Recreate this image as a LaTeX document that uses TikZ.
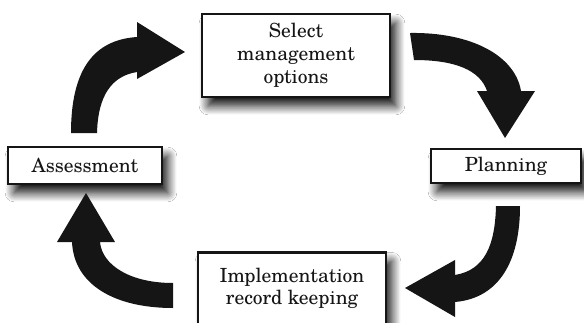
\documentclass[tikz,border=0pt]{standalone}
\usepackage{fontspec}
\setmainfont{TeX Gyre Schola}
\usetikzlibrary{shadows.blur}

\definecolor{ink}{HTML}{151515}

\begin{document}
\begin{tikzpicture}[x=1pt,y=-1pt,
  boxshadow/.style={blur shadow={shadow xshift=6pt, shadow yshift=-9pt,
      shadow blur radius=9pt, shadow blur steps=14, shadow opacity=95}},
  box/.style={draw=ink, line width=2.4pt, fill=white, align=center,
    inner sep=0pt, font=\fontsize{19.5}{23}\selectfont, text=ink, boxshadow},
  boxtext/.style={align=center, inner sep=0pt,
    font=\fontsize{19.5}{21.5}\selectfont, text=ink},
  fatarrow/.style={fill=ink, draw=none}]

\clip (0,0) rectangle (584,322);
\fill[white] (0,0) rectangle (584,322);

% the four stages of the cycle
\node[box, minimum width=187.6pt, minimum height=82.6pt] (select) at (296,55.5)
  {Select\\management\\options};
\node[box, minimum width=149.6pt, minimum height=33.6pt] (plan) at (506,166) {Planning};
\node[box, minimum width=153.6pt, minimum height=36.6pt] (assess) at (85,165.5) {Assessment};
\node[box, minimum width=187.6pt, minimum height=94pt, anchor=north] (impl) at (292,251.2) {};
\node[boxtext, anchor=north] (impltext) at (292,268) {Implementation\\record keeping};

% Assessment -> Select
\fill[fatarrow] (71,133) -- (97,133)
  .. controls (98,95) and (112,76) .. (137,72)
  -- (137,79) -- (185,52) -- (137,22) -- (137,37)
  .. controls (92,40) and (71,72) .. (71,133) -- cycle;

% Select -> Planning
\fill[fatarrow] (410,33)
  .. controls (470,32) and (515,55) .. (521,91)
  -- (535,91) -- (505,138) -- (477,91) -- (487,91)
  .. controls (480,70) and (455,60) .. (414,60) -- cycle;

% Planning -> Implementation
\fill[fatarrow] (496,206) -- (520,206)
  .. controls (520,260) and (500,298) .. (455,302)
  -- (455,317) -- (405,288) -- (455,260) -- (455,275)
  .. controls (485,270) and (495,245) .. (496,206) -- cycle;

% Implementation -> Assessment
\fill[fatarrow] (173,283) -- (173,308)
  .. controls (115,308) and (74,285) .. (72,242)
  -- (57,242) -- (86,193) -- (115,242) -- (100,242)
  .. controls (102,265) and (130,283) .. (173,283) -- cycle;

\end{tikzpicture}
\end{document}
